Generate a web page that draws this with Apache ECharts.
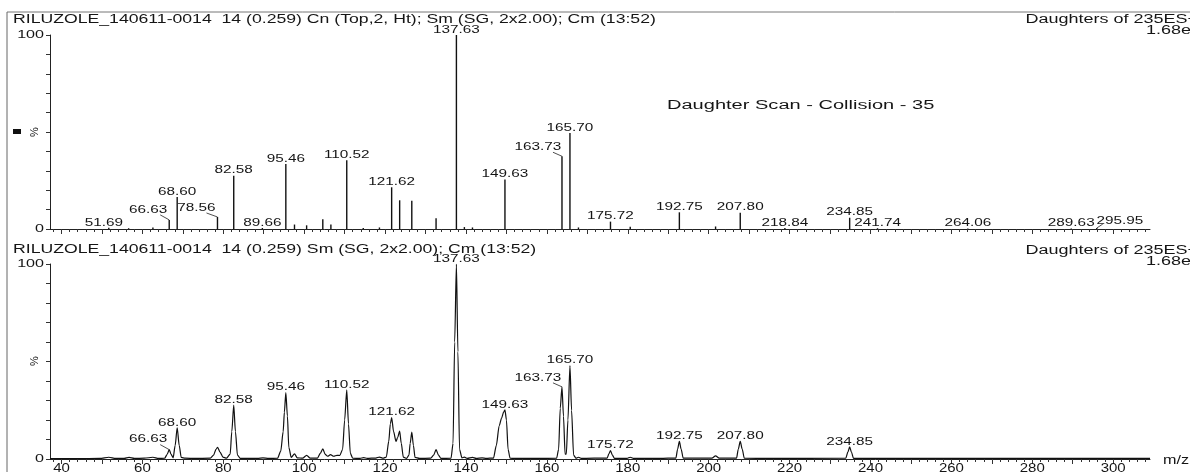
<!DOCTYPE html>
<html lang="en">
<head>
<meta charset="UTF-8">
<title>RILUZOLE daughter scan</title>
<script src="https://cdn.jsdelivr.net/npm/echarts@6/dist/echarts.min.js"></script>
<style>
  html, body { margin: 0; padding: 0; background: #fff; }
  #main { width: 1190px; height: 472px; }
</style>
</head>
<body>
<div id="main"></div>
<script type="text/javascript">
  // top trace: centroided sticks (m/z, % of base peak)
  var stickMz  = [51.69, 56.6, 62.6, 66.63, 68.60, 78.56, 82.58, 89.66, 95.46, 97.6, 100.6, 104.6, 106.6, 110.52,
                  114.6, 118.6, 121.62, 123.6, 126.6, 132.6, 137.63, 139.6, 141.6, 149.63, 163.73, 165.70, 167.8,
                  175.72, 180.6, 192.75, 201.7, 207.80, 218.84, 234.85, 241.74, 264.06, 289.63, 295.95];
  var stickPct = [0.6, 0.4, 0.8, 4.7, 16.5, 6.2, 27.5, 0.5, 33.5, 2.3, 1.9, 5.0, 2.3, 35.5,
                  0.5, 0.8, 21.5, 14.8, 14.5, 5.5, 100, 1.0, 0.8, 25.5, 37.5, 49.5, 0.8,
                  3.8, 1.2, 8.6, 1.3, 8.4, 0.5, 5.8, 0.4, 0.3, 0.3, 0.5];
  var stickLabels = [51.69, 66.63, 68.60, 78.56, 82.58, 89.66, 95.46, 110.52, 121.62, 137.63, 149.63, 163.73,
                     165.70, 175.72, 192.75, 207.80, 218.84, 234.85, 241.74, 264.06, 289.63, 295.95];

  // bottom trace: smoothed profile, [m/z, %]
  var profileTrace = [
    [37.2, 0.2], [44, 0.2], [49.5, 0.3], [51.7, 0.9], [53.4, 0.3], [55.5, 0.3], [56.7, 0.8], [58, 0.3],
    [60.5, 0.4], [62.6, 0.9], [64, 0.3], [65.5, 0.4], [66.1, 2.3], [66.63, 4.8], [67.1, 2.4], [67.6, 0.6],
    [68.1, 7], [68.60, 16], [69.1, 7], [69.6, 0.8], [70.6, 0.4], [73, 0.3], [76.8, 0.4], [77.6, 2],
    [78.2, 5], [78.6, 6], [79.2, 3.5], [79.9, 1.0], [80.8, 0.4], [81.7, 2.5], [82.1, 14], [82.58, 27.6],
    [83.0, 14], [83.5, 2], [84.2, 0.3], [88.5, 0.3], [89.8, 0.6], [91.2, 0.3], [93.4, 0.4], [94.2, 4],
    [94.8, 14], [95.1, 24], [95.46, 34.1], [95.85, 22], [96.2, 6], [96.8, 0.8], [97.6, 2.6], [98.3, 0.6],
    [99.6, 0.4], [100.6, 1.9], [101.5, 0.4], [103.3, 0.5], [104.0, 3], [104.6, 5.2], [105.2, 2.4], [105.8, 1.4],
    [106.5, 2.2], [107.3, 1.4], [108.1, 1.9], [108.8, 1.8], [109.5, 5], [110.0, 20], [110.52, 35.5], [110.95, 18],
    [111.4, 3], [112, 0.4], [113.8, 0.3], [114.7, 0.7], [115.6, 0.3], [117.7, 0.5], [118.6, 1.0], [119.5, 0.4],
    [120.3, 1], [120.9, 9], [121.3, 18], [121.62, 21.2], [122.1, 14], [122.7, 9], [123.1, 11], [123.6, 14.3],
    [124.0, 8], [124.5, 1], [125.3, 0.3], [125.9, 2], [126.2, 8], [126.6, 13.8], [127.0, 7], [127.4, 0.8],
    [128.5, 0.3], [131.3, 0.4], [132.0, 2], [132.6, 4.8], [133.2, 2], [133.8, 0.3], [136.3, 0.4], [136.8, 8],
    [137.2, 60], [137.63, 100], [138.0, 55], [138.4, 5], [139.0, 0.6], [139.6, 1.0], [140.3, 0.3], [141.6, 0.8],
    [142.5, 0.3], [144.0, 0.6], [145.0, 0.3], [146.8, 0.5], [147.5, 7], [148.2, 17], [148.8, 21], [149.3, 24],
    [149.63, 25.2], [150.0, 20], [150.4, 5], [150.9, 0.4], [152, 0.3], [158, 0.3], [162.4, 0.4], [162.9, 5],
    [163.3, 26], [163.73, 37], [164.1, 22], [164.5, 2.5], [164.8, 2.5], [165.2, 20], [165.70, 47.9], [166.1, 25],
    [166.6, 2], [167.2, 0.4], [167.8, 0.9], [168.5, 0.3], [174.9, 0.5], [175.3, 2.5], [175.72, 4.3], [176.2, 2],
    [176.7, 0.3], [179.8, 0.3], [180.6, 0.9], [181.4, 0.3], [188, 0.3], [191.9, 0.5], [192.3, 5], [192.75, 9],
    [193.2, 5], [193.7, 0.4], [200.8, 0.4], [201.7, 1.6], [202.6, 0.4], [206.9, 0.5], [207.3, 5], [207.80, 9],
    [208.3, 5], [208.8, 0.4], [215, 0.3], [233.9, 0.4], [234.4, 3.5], [234.85, 6.2], [235.3, 3.5], [235.8, 0.3],
    [250, 0.3], [309.1, 0.3]
  ];
  var profileLabels = [66.63, 68.60, 82.58, 95.46, 110.52, 121.62, 137.63, 149.63, 163.73, 165.70,
                       175.72, 192.75, 207.80, 234.85];

  var xTickLabels = [40, 60, 80, 100, 120, 140, 160, 180, 200, 220, 240, 260, 280, 300];
  var yTickLabels = [0, 100];

  var titleTop = 'RILUZOLE_140611-0014  14 (0.259) Cn (Top,2, Ht); Sm (SG, 2x2.00); Cm (13:52)';
  var titleBottom = 'RILUZOLE_140611-0014  14 (0.259) Sm (SG, 2x2.00); Cm (13:52)';
  var scanInfo = 'Daughters of 235ES+';
  var scanTic = '1.68e6';
  var scanNote = 'Daughter Scan - Collision - 35';

  // label nudges [dx, dy, leaderX, leaderY] for the peaks printed with a leader line
  var labelShift = {
    '51.69': [-5, 0],
    '66.63': [-21, -5, 12, 5],
    '78.56': [-21, -4, 10, 5],
    '163.73': [-24, -4, 15, 5],
    '295.95': [23, -2, -17, 3]
  };

  var xMin = 37.157, xMax = 309.1;
  var FONT = '"Liberation Sans", Arial, Helvetica, sans-serif';
  var INK = '#151515';

  var minorTicks = [], majorTicks = [];
  for (var t = 38; t <= 308; t += 2) minorTicks.push(t);
  for (var t2 = 40; t2 <= 300; t2 += 10) majorTicks.push(t2);

  function xAxesFor(g) {
    return [{
      type: 'value', gridIndex: g, min: xMin, max: xMax, position: 'bottom',
      axisLine: { show: true, onZero: false, lineStyle: { color: '#222', width: 1 } },
      axisTick: { show: true, customValues: minorTicks, length: 3, lineStyle: { color: '#333' } },
      axisLabel: { show: false }, splitLine: { show: false }
    }, {
      type: 'value', gridIndex: g, min: xMin, max: xMax, position: 'bottom',
      axisLine: { show: false, onZero: false },
      axisTick: { show: true, customValues: majorTicks, length: 5, lineStyle: { color: '#333' } },
      axisLabel: { show: false }, splitLine: { show: false }
    }];
  }
  function yAxisFor(g) {
    return {
      type: 'value', gridIndex: g, min: 0, max: 100, interval: 10,
      axisLine: { show: true, lineStyle: { color: '#222', width: 1 } },
      axisTick: { show: true, length: 4, lineStyle: { color: '#333' } },
      axisLabel: { show: false }, splitLine: { show: false }
    };
  }

  function txt(x, y, s, size, sx, align) {
    return {
      type: 'text', x: x, y: y, scaleX: sx,
      style: { x: 0, y: 0, text: s, fontSize: size, fontFamily: FONT, fill: INK,
               align: align, textAlign: align, verticalAlign: 'middle', textVerticalAlign: 'middle' }
    };
  }

  function stickItem(params, api) {
    var base = api.coord([api.value(0), 0]);
    var top = api.coord([api.value(0), api.value(1)]);
    return { type: 'line', shape: { x1: base[0], y1: base[1], x2: top[0], y2: top[1] },
             style: { stroke: '#111', lineWidth: 1.4 } };
  }

  function peakLabelItem(params, api) {
    var mz = api.value(0);
    var top = api.coord([mz, api.value(1)]);
    var key = mz.toFixed(2);
    var s = labelShift[key] || [0, 0];
    var cx = top[0] + s[0], cy = top[1] - 5 + s[1];
    var kids = [txt(cx, cy, key, 10, 1.53, 'center')];
    if (s.length > 2) {
      kids.push({ type: 'line', shape: { x1: cx + s[2], y1: cy + s[3], x2: top[0], y2: top[1] },
                  style: { stroke: '#222', lineWidth: 0.8 } });
    }
    return { type: 'group', children: kids };
  }

  function yLabelItem(params, api) {
    var p = api.coord([xMin, api.value(1)]);
    return txt(p[0] - 6, p[1], String(api.value(1)), 11.5, 1.4, 'right');
  }

  function xLabelItem(params, api) {
    var p = api.coord([api.value(0), 0]);
    return txt(p[0], p[1] + 10, String(api.value(0)), 12, 1.25, 'center');
  }

  var topLabelData = stickLabels.map(function (m) { return [m, stickPct[stickMz.indexOf(m)]]; });
  var bottomLabelData = profileLabels.map(function (m) {
    return profileTrace.filter(function (p) { return p[0] === m; })[0];
  });
  var yLabelData = yTickLabels.map(function (v) { return [xMin, v]; });

  var myChart = echarts.init(document.getElementById('main'), null, { renderer: 'canvas' });
  var option = {
    animation: false,
    backgroundColor: '#fff',
    grid: [
      { left: 50, right: 40, top: 35, height: 194 },
      { left: 50, right: 40, top: 264, height: 195 }
    ],
    xAxis: xAxesFor(0).concat(xAxesFor(1)),
    yAxis: [yAxisFor(0), yAxisFor(1)],
    graphic: [
      { type: 'line', silent: true, shape: { x1: 7, y1: 12, x2: 1190, y2: 12 }, style: { stroke: '#777', lineWidth: 1 } },
      { type: 'line', silent: true, shape: { x1: 7, y1: 12, x2: 7, y2: 472 }, style: { stroke: '#666', lineWidth: 1 } },
      txt(13, 20, titleTop, 12, 1.47, 'left'),
      txt(1198, 20, scanInfo, 12, 1.5, 'right'),
      txt(1201, 31, scanTic, 12, 1.5, 'right'),
      txt(667, 106, scanNote, 12, 1.67, 'left'),
      txt(13, 250, titleBottom, 12, 1.47, 'left'),
      txt(1198, 251, scanInfo, 12, 1.5, 'right'),
      txt(1201, 262, scanTic, 12, 1.5, 'right'),
      { type: 'rect', silent: true, shape: { x: 13, y: 129, width: 8, height: 5 }, style: { fill: '#111' } },
      { type: 'text', x: 35, y: 132, rotation: Math.PI / 2,
        style: { text: '%', fontSize: 11, fontFamily: FONT, fill: INK, align: 'center', textAlign: 'center',
                 verticalAlign: 'middle', textVerticalAlign: 'middle' } },
      { type: 'text', x: 35, y: 361, rotation: Math.PI / 2,
        style: { text: '%', fontSize: 11, fontFamily: FONT, fill: INK, align: 'center', textAlign: 'center',
                 verticalAlign: 'middle', textVerticalAlign: 'middle' } },
      txt(1163, 461, 'm/z', 12, 1.35, 'left')
    ],
    series: [
      { type: 'custom', name: 'sticks', xAxisIndex: 0, yAxisIndex: 0, silent: true, clip: false,
        renderItem: stickItem, data: stickMz.map(function (m, i) { return [m, stickPct[i]]; }) },
      { type: 'custom', name: 'stick labels', xAxisIndex: 0, yAxisIndex: 0, silent: true, clip: false,
        renderItem: peakLabelItem, data: topLabelData },
      { type: 'custom', name: 'y labels top', xAxisIndex: 0, yAxisIndex: 0, silent: true, clip: false,
        renderItem: yLabelItem, data: yLabelData },
      { type: 'line', name: 'profile', xAxisIndex: 2, yAxisIndex: 1, silent: true,
        showSymbol: false, smooth: 0.25, smoothMonotone: 'x',
        lineStyle: { color: '#111', width: 1.2 }, data: profileTrace },
      { type: 'custom', name: 'profile labels', xAxisIndex: 2, yAxisIndex: 1, silent: true, clip: false,
        renderItem: peakLabelItem, data: bottomLabelData },
      { type: 'custom', name: 'y labels bottom', xAxisIndex: 2, yAxisIndex: 1, silent: true, clip: false,
        renderItem: yLabelItem, data: yLabelData },
      { type: 'custom', name: 'x labels', xAxisIndex: 2, yAxisIndex: 1, silent: true, clip: false,
        renderItem: xLabelItem, data: xTickLabels.map(function (v) { return [v, 0]; }) }
    ]
  };
  myChart.setOption(option);
</script>
</body>
</html>
